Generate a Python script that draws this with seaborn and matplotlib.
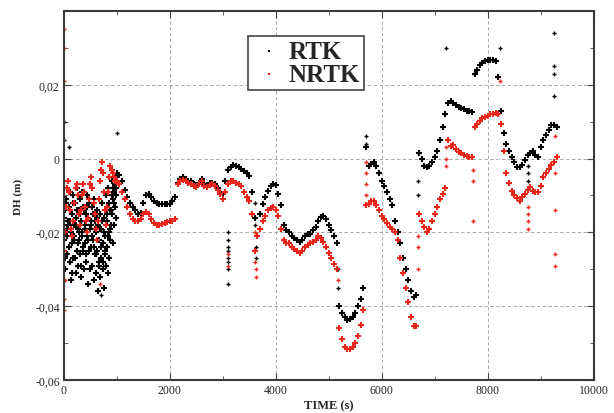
import seaborn as sns
import matplotlib.pyplot as plt
import matplotlib.ticker as mticker
import pandas as pd

# smooth part of the track, one sample every 50 s (values in mm)
track_time_s = [
    1000, 1050, 1100, 1150, 1200, 1250, 1300, 1350, 1400, 1450,
    1500, 1550, 1600, 1650, 1700, 1750, 1800, 1850, 1900, 1950,
    2000, 2050, 2100, 2150, 2200, 2250, 2300, 2350, 2400, 2450,
    2500, 2550, 2600, 2650, 2700, 2750, 2800, 2850, 2900, 2950,
    3000, 3050, 3100, 3150, 3200, 3250, 3300, 3350, 3400, 3450,
    3500, 3550, 3600, 3650, 3700, 3750, 3800, 3850, 3900, 3950,
    4000, 4050, 4100, 4150, 4200, 4250, 4300, 4350, 4400, 4450,
    4500, 4550, 4600, 4650, 4700, 4750, 4800, 4850, 4900, 4950,
    5000, 5050, 5100, 5150, 5200, 5250, 5300, 5350, 5400, 5450,
    5500, 5550, 5600, 5650, 5700, 5750, 5800, 5850, 5900, 5950,
    6000, 6050, 6100, 6150, 6200, 6250, 6300, 6350, 6400, 6450,
    6500, 6550, 6600, 6650, 6700, 6750, 6800, 6850, 6900, 6950,
    7000, 7050, 7100, 7150, 7200, 7250, 7300, 7350, 7400, 7450,
    7500, 7550, 7600, 7650, 7700, 7750, 7800, 7850, 7900, 7950,
    8000, 8050, 8100, 8150, 8200, 8250, 8300, 8350, 8400, 8450,
    8500, 8550, 8600, 8650, 8700, 8750, 8800, 8850, 8900, 8950,
    9000, 9050, 9100, 9150, 9200, 9250, 9300]

rtk_mm = [
    -4, -4.5, -6, -8.5, -10.5, -12, -13, -14, -15, -14.8,
    -12, -9.8, -9.7, -10.5, -11.5, -12, -12.2, -12.4, -12.4, -12.4,
    -12.2, -11.5, -10.5, -6.5, -5.5, -5, -5.5, -6, -6.2, -7,
    -7.2, -6.5, -5.5, -7, -7.2, -6.6, -6.5, -7, -8, -9,
    -9.5, -6, -3, -2.2, -1.8, -1.9, -2.2, -2.8, -3.5, -4,
    -4.8, -9, -16, -21, -15, -12.4, -10.5, -8.8, -7.5, -6.8,
    -7.2, -9.5, -12.5, -18, -19.5, -20, -21, -21.5, -22, -22.7,
    -22, -21, -20.5, -20.5, -19.5, -18.5, -17, -15.8, -15.5, -16.5,
    -18, -19.5, -21, -23, -40, -42, -43, -43.8, -43.5, -43,
    -42, -40, -38, -35, 3, -2, -1.5, -1, -2, -4,
    -6, -7.5, -9, -11, -12.5, -17, -20, -23, -27, -30,
    -33, -36, -37.5, -37, 1.5, 0, -2, -2.4, -2, -1,
    0.5, 2, 5, 8.5, 12, 15, 15.5, 15, 14.5, 14,
    13.8, 13.5, 13, 13, 12.7, 23, 24, 25.4, 26, 26.5,
    26.8, 26.8, 26.7, 26.5, 22, 13, 7, 4, 2, 0.3,
    -1, -2.2, -2.4, -1.8, -0.5, 1, 1.5, 2, 1, 0.5,
    3, 5, 6.5, 7.8, 9, 9.2, 8.5]

nrtk_mm = [
    -6, -7, -9, -11, -13, -15, -16.5, -17, -17, -16.5,
    -15, -14.6, -15, -16.5, -17.5, -18, -18, -17.8, -17.5, -17.2,
    -17, -16.8, -16.5, -7, -6, -5.7, -6, -6.5, -6.8, -7.5,
    -7.8, -7, -6, -7.5, -7.8, -7.2, -7, -7.5, -8.5, -9.5,
    -11, -9, -7, -6, -6, -6.5, -7, -7.5, -9, -10.5,
    -11.5, -15, -25, -21, -19, -17, -15.5, -14, -13.5, -13.2,
    -14, -15.5, -19, -22, -23, -23, -24, -24.5, -25, -25.5,
    -25, -24, -23.5, -23, -22.5, -22, -21, -21.5, -22.5, -24,
    -25.5, -27, -28.5, -30, -46, -49, -51, -51.6, -51.5, -51,
    -50, -48, -45, -41, -12.5, -12.2, -11.4, -11.5, -12.5, -14,
    -15.5, -16.5, -17.5, -18.6, -19, -20, -22, -27, -31, -35,
    -39, -43, -45.5, -45.5, -15, -17, -18.5, -20, -19, -17,
    -15, -13, -11, -9.5, -8, 5, 3.5, 3.8, 2.5, 1.8,
    1.5, 1, 0.8, 0.5, 0.3, 8.5, 9.5, 10.3, 11, 11.3,
    11.6, 12, 12.2, 12.4, 12, 9.5, 2, -4, -6.5, -8.7,
    -9.8, -10.8, -11.4, -10.5, -9.7, -8.5, -7.8, -8.8, -9.2, -9,
    -7.5, -5, -3.8, -2.8, -1.8, -0.8, 0.3]

# noisy start (initialisation): RTK every 10 s plus a second pass, NRTK every 20 s
rtk_start_time_s = [
    0, 10, 20, 30, 40, 50, 60, 70, 80, 90,
    100, 110, 120, 130, 140, 150, 160, 170, 180, 190,
    200, 210, 220, 230, 240, 250, 260, 270, 280, 290,
    300, 310, 320, 330, 340, 350, 360, 370, 380, 390,
    400, 410, 420, 430, 440, 450, 460, 470, 480, 490,
    500, 510, 520, 530, 540, 550, 560, 570, 580, 590,
    600, 610, 620, 630, 640, 650, 660, 670, 680, 690,
    700, 710, 720, 730, 740, 750, 760, 770, 780, 790,
    800, 810, 820, 830, 840, 850, 860, 870, 880, 890,
    900, 910, 920, 930, 940, 950, 960, 970, 980, 990]
rtk_start_mm = [
    -8, -22, -14, -30, -11, -19, -26, -6, -17, -24,
    -13, -28, -9, -20, -33, -15, -23, -10, -27, -18,
    -21, -12, -31, -16, -25, -8, -19, -29, -14, -22,
    -11, -26, -17, -32, -9, -20, -24, -13, -30, -18,
    -23, -15, -28, -10, -21, -34, -16, -25, -12, -19,
    -7, -24, -18, -29, -13, -22, -33, -11, -26, -17,
    -20, -31, -14, -25, -36, -18, -28, -22, -15, -32,
    -19, -27, -12, -30, -23, -35, -16, -26, -21, -29,
    -10, -24, -17, -31, -8, -20, -27, -14, -22, -18,
    -6, -15, -11, -23, -9, -18, -13, -5, -16, -8]

rtk_start2_time_s = [
    5, 25, 45, 65, 85, 105, 125, 145, 165, 185,
    205, 225, 245, 265, 285, 305, 325, 345, 365, 385,
    405, 425, 445, 465, 485, 505, 525, 545, 565, 585,
    605, 625, 645, 665, 685, 705, 725, 745, 765, 785,
    805, 825, 845, 865, 885, 905, 925, 945, 965, 985]
rtk_start2_mm = [
    -16, -27, -12, -21, -18, -24, -17, -31, -12, -22,
    -27, -18, -14, -23, -20, -15, -29, -21, -25, -14,
    -19, -26, -13, -22, -30, -17, -21, -15, -24, -19,
    -26, -16, -22, -29, -19, -24, -17, -28, -20, -25,
    -15, -21, -12, -19, -14, -10, -8, -12, -7, -10]

nrtk_start_time_s = [
    0, 20, 40, 60, 80, 100, 120, 140, 160, 180,
    200, 220, 240, 260, 280, 300, 320, 340, 360, 380,
    400, 420, 440, 460, 480, 500, 520, 540, 560, 580,
    600, 620, 640, 660, 680, 700, 720, 740, 760, 780,
    800, 820, 840, 860, 880, 900, 920, 940, 960, 980]
nrtk_start_mm = [
    -25, -20, -13, -8, -6, -9, -14, -19, -21, -17,
    -12, -8, -7, -10, -15, -18, -14, -10, -7, -9,
    -13, -17, -20, -16, -11, -7, -5, -8, -12, -15,
    -19, -22, -17, -11, -6, -3, -1, -4, -9, -14,
    -18, -13, -9, -5, -2, -3, -4, -5, -6, -6]

# isolated outliers
rtk_extra_time_s = [0, 0, 100, 700, 1000,
                    3100, 3100, 3100, 3100, 3100, 3100, 3100, 3100,
                    3600, 3600, 3620, 3620, 5170, 5180, 5700, 5700,
                    6690, 6690, 7220, 8230, 8750, 8750, 8760,
                    9250, 9250, 9250, 9250]
rtk_extra_mm = [10, 5, 3, -37, 7,
                -20, -22, -24, -25, -27, -28, -30, -34,
                -12, -18, -24, -27, -35, -30, 6, 4,
                -6, -10, 30, 30, -2, -4, -6,
                34, 25, 23, 17]

nrtk_extra_time_s = [0, 0, 0, 0, 0, 20, 680,
                     3100, 3100, 3600, 3610, 3620, 3620, 5170,
                     5710, 5710, 5710, 5710, 6690, 6690, 6690,
                     7220, 7220, 7220, 7720, 7720, 7720, 8240,
                     8750, 8750, 8760, 8760,
                     9270, 9270, 9270, 9270, 9270]
nrtk_extra_mm = [35, 30, 21, -38, -41, -33, -34,
                 -26, -29, -20, -28, -30, -32, -33,
                 -1, -4, -7, -10, -21, -24, -30,
                 3, 0, -2, -3, -6, -17, 21,
                 -13, -15, -17, -19,
                 6, -4, -14, -26, -29]

rtk_track = pd.DataFrame({
    'time': rtk_start_time_s + rtk_start2_time_s + track_time_s,
    'dh': pd.Series(rtk_start_mm + rtk_start2_mm + rtk_mm) / 1000})
nrtk_track = pd.DataFrame({
    'time': nrtk_start_time_s + track_time_s,
    'dh': pd.Series(nrtk_start_mm + nrtk_mm) / 1000})
rtk_out = pd.DataFrame({'time': rtk_extra_time_s,
                        'dh': pd.Series(rtk_extra_mm) / 1000})
nrtk_out = pd.DataFrame({'time': nrtk_extra_time_s,
                         'dh': pd.Series(nrtk_extra_mm) / 1000})

black = 'black'
red = '#e8261b'

sns.set_style('ticks')
plt.rcParams['font.family'] = ['Liberation Serif', 'DejaVu Serif']

fig = plt.figure(figsize=(6.14, 4.14), dpi=100)
ax = fig.add_axes([0.104, 0.080, 0.863, 0.891])

sns.scatterplot(data=rtk_track, x='time', y='dh', marker='+', color=black,
                s=22, linewidth=1.5, ax=ax, label='RTK')
sns.scatterplot(data=rtk_out, x='time', y='dh', marker='+', color=black,
                s=12, linewidth=1.0, ax=ax)
sns.scatterplot(data=nrtk_track, x='time', y='dh', marker='+', color=red,
                s=22, linewidth=1.5, ax=ax, label='NRTK')
sns.scatterplot(data=nrtk_out, x='time', y='dh', marker='+', color=red,
                s=12, linewidth=1.0, ax=ax)

ax.set_xlim(0, 10000)
ax.set_ylim(-0.06, 0.04)
ax.xaxis.set_major_locator(mticker.MultipleLocator(2000))
ax.xaxis.set_minor_locator(mticker.MultipleLocator(1000))
ax.yaxis.set_major_locator(mticker.FixedLocator([-0.06, -0.04, -0.02, 0, 0.02]))
ax.yaxis.set_minor_locator(mticker.MultipleLocator(0.01))
ax.yaxis.set_major_formatter(mticker.FuncFormatter(
    lambda v, p: ('%g' % round(v, 3)).replace('.', ',')))
ax.tick_params(which='both', direction='in', top=True, right=True,
               color='#444444', labelsize=8.5, pad=3)
ax.tick_params(which='major', length=5)
ax.tick_params(which='minor', length=3)
ax.grid(True, which='major', linestyle=(0, (4, 3)), color='#9a9a9a', linewidth=0.6)
for s in ax.spines.values():
    s.set_linewidth(1.5)
    s.set_color('#3a3a3a')

ax.set_xlabel('TIME (s)', fontsize=9, fontweight='bold', labelpad=2)
ax.set_ylabel('DH (m)', fontsize=8, fontweight='bold', labelpad=9)

leg = ax.legend(loc='upper left', bbox_to_anchor=(0.347, 0.932),
                borderaxespad=0,
                prop={'size': 18, 'weight': 'bold'}, fancybox=False,
                framealpha=1, edgecolor='#444444', handletextpad=0.1,
                borderpad=0.15, labelspacing=0.0, handlelength=1.4,
                markerscale=0.4)
leg.get_frame().set_linewidth(1.2)

plt.savefig('out.png', dpi=100)
